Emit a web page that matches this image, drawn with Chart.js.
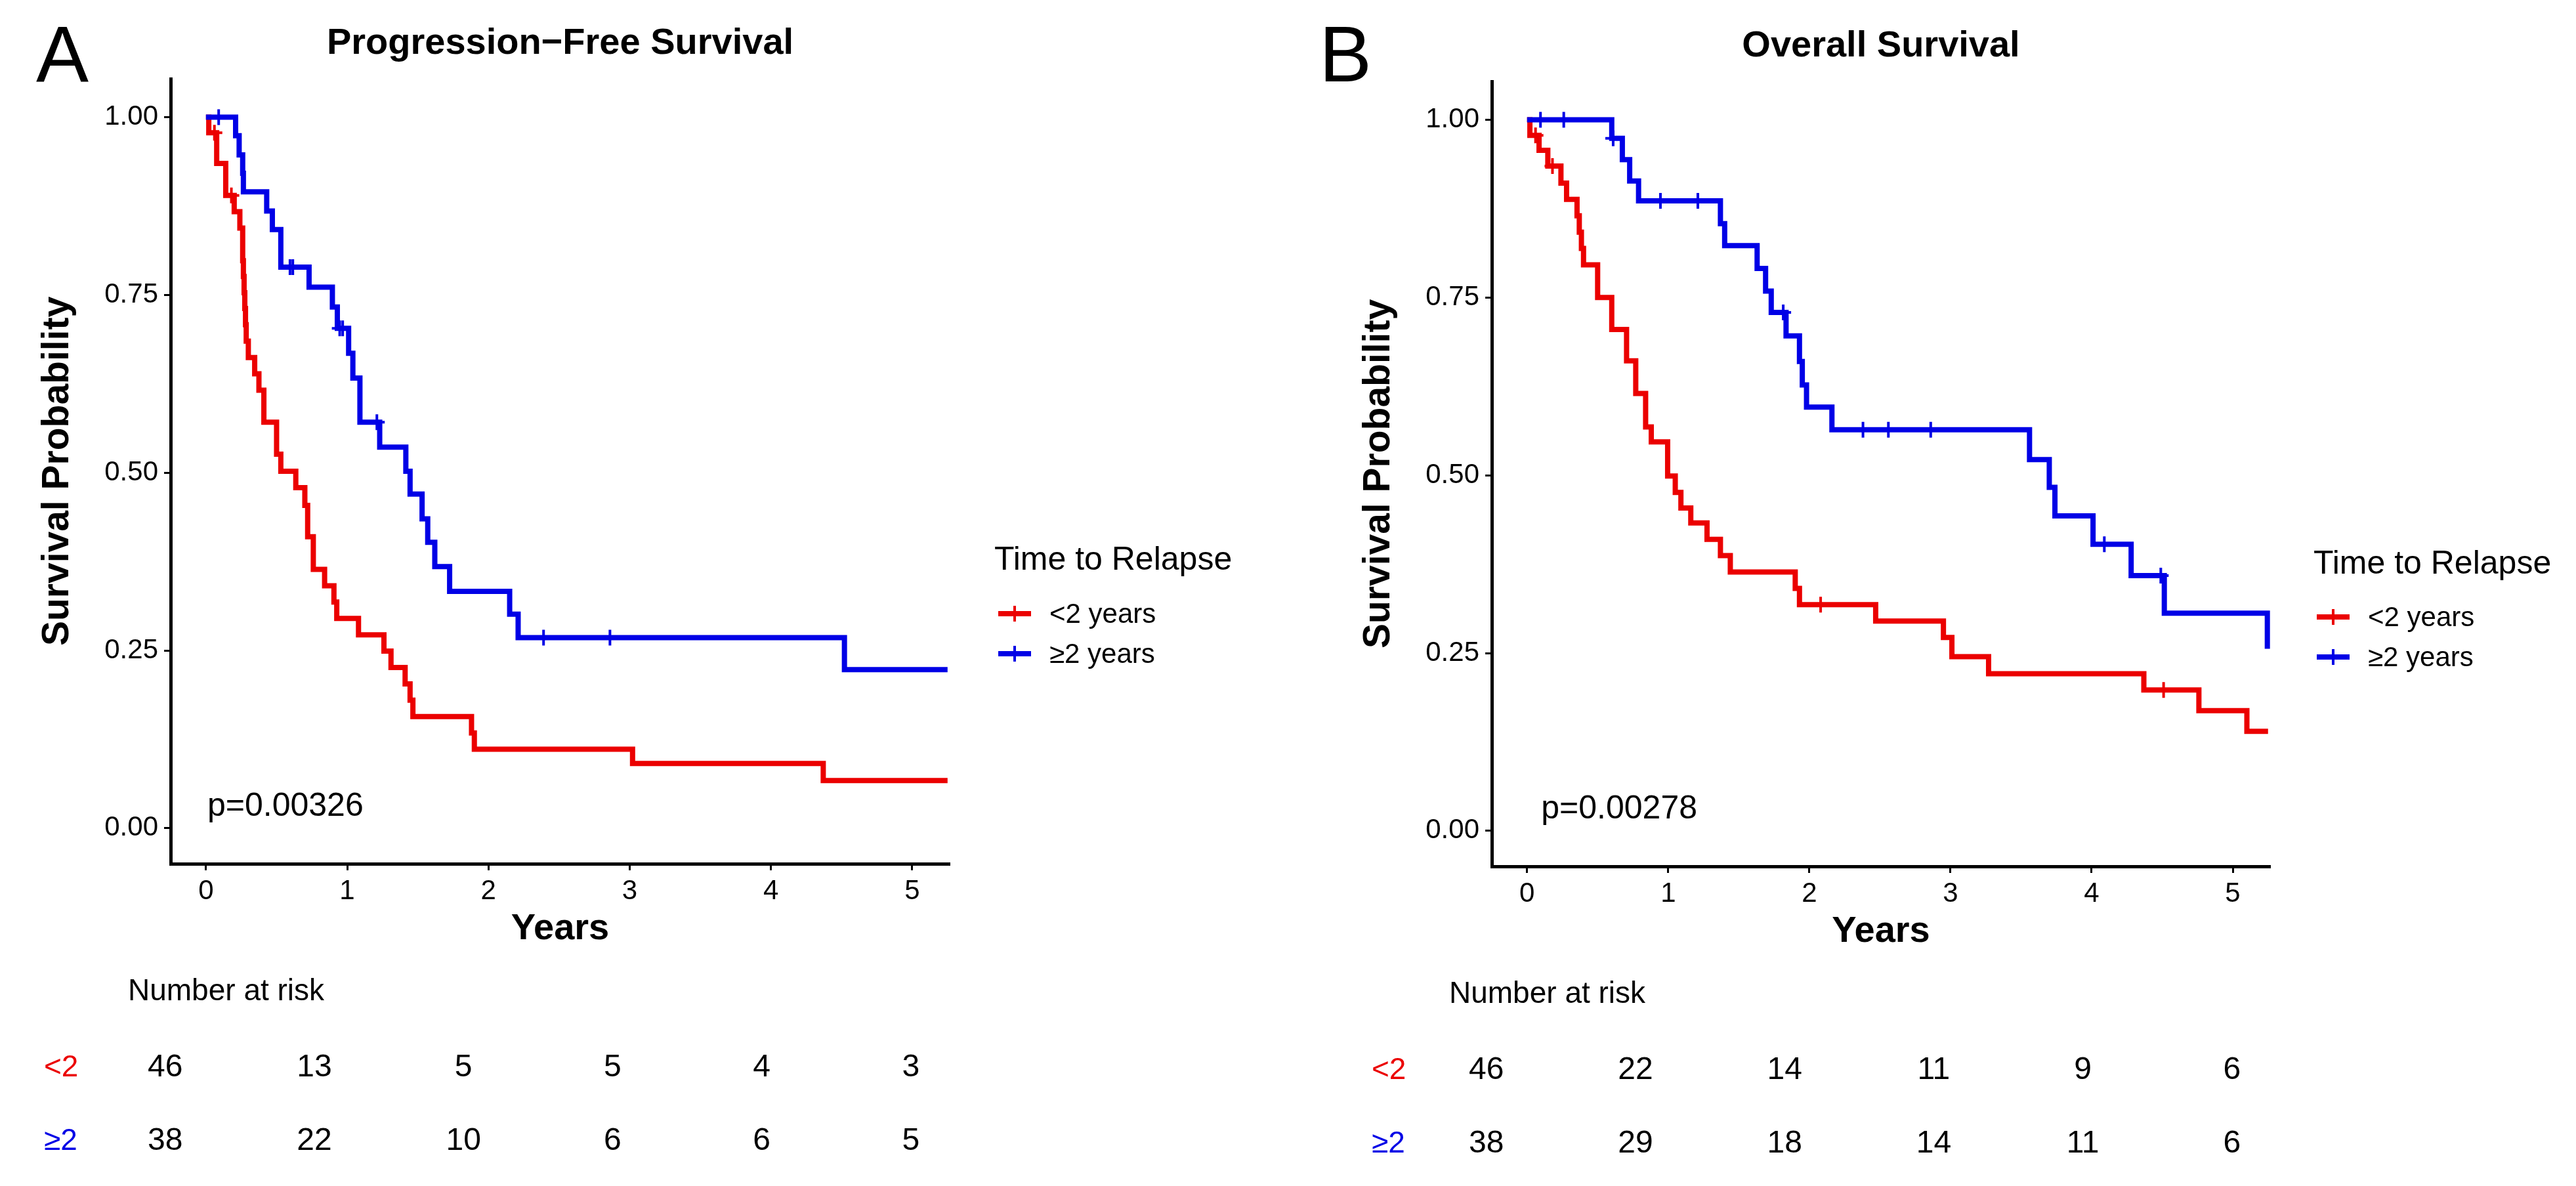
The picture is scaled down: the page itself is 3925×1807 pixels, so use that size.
<!DOCTYPE html>
<html>
<head>
<meta charset="utf-8">
<script src="https://cdn.jsdelivr.net/npm/chart.js@4.4.1/dist/chart.umd.min.js"></script>
<style>
html,body{margin:0;padding:0;background:#fff;}
#root{position:relative;width:3925px;height:1807px;overflow:hidden;background:#fff;font-family:'Liberation Sans',Arial,Helvetica,sans-serif;color:#000;}
.abs{position:absolute;white-space:nowrap;}
canvas{position:absolute;}
.letter{font-size:120px;line-height:1;}
.legtitle{font-size:50px;line-height:1;}
.legitem{display:flex;align-items:center;height:42px;font-size:42px;line-height:1;}
.key{position:relative;display:inline-block;width:50px;height:24px;margin-right:28px;}
.key i{position:absolute;display:block;}
.key .h{left:0;top:8px;width:50px;height:8px;}
.key .v{left:23px;top:0;width:4px;height:24px;}
</style>
</head>
<body>
<div id="root">
  <div class="abs letter" style="left:55px;top:22px;">A</div>
  <div class="abs letter" style="left:2010px;top:22px;">B</div>

  <canvas id="kmA" width="1962" height="1460" style="left:0px;top:0px;"></canvas>
  <canvas id="riskA" width="1962" height="385" style="left:0px;top:1440px;"></canvas>
  <canvas id="kmB" width="1912" height="1460" style="left:2013px;top:4px;"></canvas>
  <canvas id="riskB" width="1912" height="385" style="left:2013px;top:1444px;"></canvas>

  <div class="abs legtitle" style="left:1515px;top:826px;">Time to Relapse</div>
  <div class="abs legitem" style="left:1521px;top:914px;"><span class="key"><i class="h" style="background:rgb(235,0,0)"></i><i class="v" style="background:rgb(235,0,0)"></i></span><span>&lt;2 years</span></div>
  <div class="abs legitem" style="left:1521px;top:975px;"><span class="key"><i class="h" style="background:rgb(0,0,230)"></i><i class="v" style="background:rgb(0,0,230)"></i></span><span>≥2 years</span></div>

  <div class="abs legtitle" style="left:3525px;top:832px;">Time to Relapse</div>
  <div class="abs legitem" style="left:3530px;top:919px;"><span class="key"><i class="h" style="background:rgb(235,0,0)"></i><i class="v" style="background:rgb(235,0,0)"></i></span><span>&lt;2 years</span></div>
  <div class="abs legitem" style="left:3530px;top:980px;"><span class="key"><i class="h" style="background:rgb(0,0,230)"></i><i class="v" style="background:rgb(0,0,230)"></i></span><span>≥2 years</span></div>
</div>
<script>
// ---------- data ----------
const xTicks = [0, 1, 2, 3, 4, 5];
const yTicks = [0, 0.25, 0.5, 0.75, 1];
const groupLabels = ['<2 years', '≥2 years'];
const riskRowLabels = ['<2', '≥2'];
const riskTimes = [0, 1, 2, 3, 4, 5];

// Panel A: Progression-Free Survival
const pfsLtTime = [0, 0.02, 0.076, 0.14, 0.20, 0.24, 0.26, 0.265, 0.27, 0.275, 0.28, 0.285, 0.30, 0.345, 0.375, 0.41, 0.50, 0.53, 0.636, 0.70, 0.72, 0.76, 0.84, 0.906, 0.926, 1.08, 1.26, 1.31, 1.41, 1.445, 1.465, 1.88, 1.90, 3.02, 4.37, 5.25];
const pfsLtSurv = [1, 0.978, 0.935, 0.890, 0.867, 0.844, 0.798, 0.776, 0.753, 0.731, 0.708, 0.685, 0.662, 0.639, 0.616, 0.571, 0.526, 0.502, 0.479, 0.454, 0.410, 0.364, 0.341, 0.318, 0.295, 0.272, 0.249, 0.226, 0.203, 0.180, 0.157, 0.134, 0.111, 0.091, 0.067, 0.067];
const pfsLtCensTime = [0.06, 0.18];
const pfsLtCensSurv = [0.978, 0.890];
const pfsGeTime = [0, 0.21, 0.235, 0.26, 0.265, 0.43, 0.47, 0.53, 0.73, 0.895, 0.93, 1.01, 1.04, 1.09, 1.23, 1.415, 1.445, 1.53, 1.57, 1.62, 1.725, 2.15, 2.21, 4.52, 5.25];
const pfsGeSurv = [1, 0.974, 0.947, 0.921, 0.895, 0.868, 0.842, 0.789, 0.761, 0.733, 0.703, 0.668, 0.633, 0.571, 0.536, 0.502, 0.470, 0.435, 0.402, 0.368, 0.333, 0.301, 0.268, 0.223, 0.223];
const pfsGeCensTime = [0.09, 0.595, 0.615, 0.947, 0.968, 1.21, 2.39, 2.86];
const pfsGeCensSurv = [1, 0.789, 0.789, 0.703, 0.703, 0.571, 0.268, 0.268];
const pfsRiskLt = [46, 13, 5, 5, 4, 3];
const pfsRiskGe = [38, 22, 10, 6, 6, 5];

// Panel B: Overall Survival
const osLtTime = [0, 0.02, 0.085, 0.147, 0.24, 0.28, 0.354, 0.37, 0.385, 0.40, 0.50, 0.60, 0.705, 0.77, 0.84, 0.88, 0.996, 1.05, 1.09, 1.16, 1.275, 1.37, 1.44, 1.90, 1.93, 2.47, 2.95, 3.01, 3.27, 4.37, 4.76, 5.10, 5.25];
const osLtSurv = [1, 0.978, 0.957, 0.935, 0.911, 0.888, 0.865, 0.842, 0.819, 0.796, 0.750, 0.705, 0.661, 0.615, 0.568, 0.547, 0.499, 0.476, 0.454, 0.433, 0.410, 0.387, 0.364, 0.341, 0.318, 0.295, 0.272, 0.245, 0.221, 0.198, 0.169, 0.140, 0.140];
const osLtCensTime = [0.06, 0.18, 2.08, 4.51];
const osLtCensSurv = [0.978, 0.935, 0.318, 0.198];
const osGeTime = [0, 0.60, 0.675, 0.727, 0.79, 1.37, 1.40, 1.63, 1.69, 1.73, 1.835, 1.93, 1.95, 1.98, 2.16, 3.56, 3.70, 3.74, 4.01, 4.28, 4.515, 5.245];
const osGeSurv = [1, 0.974, 0.944, 0.914, 0.886, 0.854, 0.823, 0.791, 0.759, 0.729, 0.696, 0.660, 0.627, 0.596, 0.564, 0.522, 0.483, 0.443, 0.403, 0.359, 0.306, 0.256];
const osGeCensTime = [0.095, 0.26, 0.61, 0.945, 1.21, 1.815, 2.38, 2.56, 2.86, 4.09, 4.49];
const osGeCensSurv = [1, 1, 0.974, 0.886, 0.886, 0.729, 0.564, 0.564, 0.564, 0.403, 0.359];
const osRiskLt = [46, 22, 14, 11, 9, 6];
const osRiskGe = [38, 29, 18, 14, 11, 6];

// ---------- style ----------
const FONT = "'Liberation Sans', Arial, Helvetica, sans-serif";
const RED = 'rgb(235,0,0)';
const BLUE = 'rgb(0,0,230)';
Chart.defaults.font.family = FONT;
Chart.defaults.color = '#000';

const toXY = (t, s) => t.map((v, i) => ({x: v, y: s[i]}));

// panel title centred over the plotting area, plus the log-rank p value
const annotatePlugin = {
  id: 'annot',
  afterDraw(chart, args, opts) {
    const ctx = chart.ctx;
    const ca = chart.chartArea;
    const xs = chart.scales.x, ys = chart.scales.y;
    ctx.save();
    ctx.fillStyle = '#000';
    ctx.font = 'bold 56px ' + FONT;
    ctx.textAlign = 'center';
    ctx.textBaseline = 'middle';
    ctx.fillText(opts.title, (ca.left + ca.right) / 2, opts.titleY);
    ctx.font = opts.pSize + 'px ' + FONT;
    ctx.textAlign = 'left';
    ctx.fillText(opts.pText, xs.getPixelForValue(opts.pAt[0]), ys.getPixelForValue(opts.pAt[1]));
    ctx.restore();
  }
};

const riskPlugin = {
  id: 'risk',
  afterDraw(chart, args, opts) {
    const ctx = chart.ctx;
    const xs = chart.scales.x, ys = chart.scales.y;
    ctx.save();
    ctx.fillStyle = '#000';
    ctx.font = opts.titleSize + 'px ' + FONT;
    ctx.textAlign = 'left';
    ctx.textBaseline = 'middle';
    ctx.fillText(opts.title, chart.chartArea.left, chart.chartArea.top - opts.titleGap);
    ctx.font = opts.size + 'px ' + FONT;
    ctx.textAlign = 'center';
    opts.rows.forEach((row, r) => {
      row.forEach((n, i) => {
        ctx.fillText(String(n), xs.getPixelForValue(opts.times[i]), ys.getPixelForValue(r));
      });
    });
    ctx.restore();
  }
};

function axisCommon() {
  return {
    grid: {display: true, drawOnChartArea: false, drawTicks: true, tickLength: 10, tickWidth: 3, tickColor: '#000', color: '#000'},
    border: {display: true, color: '#000', width: 5}
  };
}

function kmChart(id, cfg) {
  return new Chart(document.getElementById(id), {
    type: 'line',
    data: {
      datasets: [
        {label: groupLabels[0], data: toXY(cfg.ltT, cfg.ltS), borderColor: RED, borderWidth: 8, stepped: true, pointRadius: 0, fill: false, order: 3},
        {label: groupLabels[1], data: toXY(cfg.geT, cfg.geS), borderColor: BLUE, borderWidth: 8, stepped: true, pointRadius: 0, fill: false, order: 2},
        {type: 'scatter', label: groupLabels[0] + ' censored', data: toXY(cfg.ltCT, cfg.ltCS), pointStyle: 'cross', pointRadius: 12, pointBorderWidth: 4, borderColor: RED, backgroundColor: RED, showLine: false, order: 1},
        {type: 'scatter', label: groupLabels[1] + ' censored', data: toXY(cfg.geCT, cfg.geCS), pointStyle: 'cross', pointRadius: 12, pointBorderWidth: 4, borderColor: BLUE, backgroundColor: BLUE, showLine: false, order: 0}
      ]
    },
    options: {
      responsive: false,
      animation: false,
      devicePixelRatio: 1,
      events: [],
      layout: {padding: {left: 0, right: cfg.padRight, top: 120, bottom: 0}},
      plugins: {
        legend: {display: false},
        tooltip: {enabled: false},
        title: {display: false},
        annot: {title: cfg.title, titleY: 67, pText: cfg.pText, pAt: cfg.pAt, pSize: 50}
      },
      scales: {
        x: Object.assign(axisCommon(), {
          type: 'linear', min: -0.25, max: 5.265,
          afterBuildTicks: s => { s.ticks = xTicks.map(v => ({value: v})); },
          ticks: {font: {size: 42}, color: '#000', padding: 7, maxRotation: 0, autoSkip: false, callback: v => String(v)},
          title: {display: true, text: 'Years', color: '#000', font: {size: 56, weight: 'bold'}, padding: {top: 0, bottom: 11}},
          afterFit: s => { s.height = 144; }
        }),
        y: Object.assign(axisCommon(), {
          type: 'linear', min: -0.05, max: 1.054,
          afterBuildTicks: s => { s.ticks = yTicks.map(v => ({value: v})); },
          ticks: {font: {size: 42}, color: '#000', padding: 9, callback: v => Number(v).toFixed(2)},
          title: {display: true, text: 'Survival Probability', color: '#000', font: {size: 57, weight: 'bold'}, padding: {top: 54, bottom: 0}},
          afterFit: s => { s.width = 260; }
        })
      }
    },
    plugins: [annotatePlugin]
  });
}

function riskChart(id, cfg) {
  return new Chart(document.getElementById(id), {
    type: 'scatter',
    data: {datasets: []},
    options: {
      responsive: false,
      animation: false,
      devicePixelRatio: 1,
      events: [],
      layout: {padding: {left: cfg.padLeft, right: cfg.padRight, top: 131, bottom: 30}},
      plugins: {
        legend: {display: false},
        tooltip: {enabled: false},
        risk: {title: 'Number at risk', titleSize: 46, titleGap: 60, size: 48, times: riskTimes, rows: cfg.rows}
      },
      scales: {
        x: {type: 'linear', min: -0.25, max: 5.265, display: false},
        y: {
          type: 'linear', min: -0.5, max: 1.5, reverse: true,
          afterBuildTicks: s => { s.ticks = riskRowLabels.map((l, i) => ({value: i})); },
          grid: {display: false, drawTicks: false},
          border: {display: false},
          ticks: {font: {size: 46}, padding: 0, crossAlign: 'far', callback: v => riskRowLabels[v], color: c => (c.index === 0 ? RED : BLUE)},
          afterFit: s => { s.width = 195 - cfg.padLeft; }
        }
      }
    },
    plugins: [riskPlugin]
  });
}

kmChart('kmA', {
  title: 'Progression−Free Survival', padRight: 515,
  ltT: pfsLtTime, ltS: pfsLtSurv, geT: pfsGeTime, geS: pfsGeSurv,
  ltCT: pfsLtCensTime, ltCS: pfsLtCensSurv, geCT: pfsGeCensTime, geCS: pfsGeCensSurv,
  pText: 'p=0.00326', pAt: [0.01, 0.03]
});
kmChart('kmB', {
  title: 'Overall Survival', padRight: 1912 - 1446,
  ltT: osLtTime, ltS: osLtSurv, geT: osGeTime, geS: osGeSurv,
  ltCT: osLtCensTime, ltCS: osLtCensSurv, geCT: osGeCensTime, geCS: osGeCensSurv,
  pText: 'p=0.00278', pAt: [0.10, 0.03]
});
riskChart('riskA', {padLeft: 67, padRight: 514, rows: [pfsRiskLt, pfsRiskGe]});
riskChart('riskB', {padLeft: 77, padRight: 1912 - 1448, rows: [osRiskLt, osRiskGe]});
</script>
</body>
</html>
